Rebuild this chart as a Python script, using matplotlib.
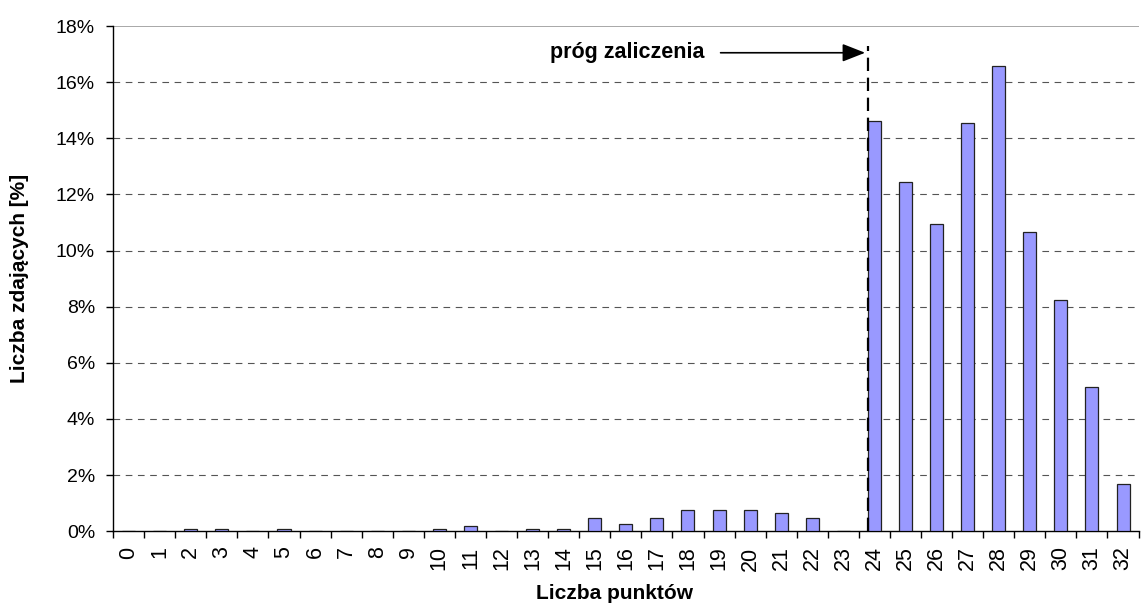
import matplotlib
matplotlib.use("Agg")
import matplotlib.pyplot as plt
from matplotlib.ticker import FuncFormatter, FixedLocator
import numpy as np

# Rozklad wynikow (procent zdajacych dla kazdej liczby punktow)
punkty = list(range(0, 33))
procent = [0, 0, 0.07, 0.07, 0, 0.07, 0, 0, 0, 0,
           0.07, 0.17, 0, 0.07, 0.07, 0.48, 0.27, 0.48, 0.75, 0.75,
           0.75, 0.65, 0.48, 0, 14.6, 12.45, 10.94, 14.54, 16.57, 10.66,
           8.23, 5.13, 1.68]
prog = 24
y_ticks = [0, 2, 4, 6, 8, 10, 12, 14, 16, 18]

plt.rcParams["font.family"] = ["Liberation Sans", "DejaVu Sans"]

fig = plt.figure(figsize=(11.42, 6.07), dpi=100)
ax = fig.add_axes([0.099, 0.125, 0.898, 0.832])

breite = 0.42
ax.bar(punkty, procent, width=breite, color="#9999ff", edgecolor="#222222", linewidth=0.9, zorder=3)

ax.set_xlim(-0.5, 32.5)
ax.set_ylim(0, 18)

# Gitter
for t in y_ticks[1:-1]:
    ax.axhline(t, color="#555555", linestyle=(0, (6, 5)), linewidth=0.8, zorder=1)
ax.axhline(18, color="#999999", linewidth=1.2, zorder=1)

ax.set_yticks(y_ticks)
ax.yaxis.set_major_formatter(FuncFormatter(lambda v, p: f"{int(v)}%"))
ax.set_xticks(punkty)
ax.set_xticklabels([str(p) for p in punkty], rotation=90)
ax.tick_params(axis="x", length=0, pad=11, labelsize=15.5)
ax.xaxis.set_minor_locator(FixedLocator(np.arange(-0.5, 33, 1)))
ax.tick_params(axis="x", which="minor", length=5, width=1)
ax.tick_params(axis="y", length=5, width=1, labelsize=14, pad=8)

for s in ["top", "right"]:
    ax.spines[s].set_visible(False)
ax.spines["left"].set_linewidth(1)
ax.spines["bottom"].set_linewidth(1)

ax.set_xlabel("Liczba punktów", fontsize=15, fontweight="bold", labelpad=6)
ax.xaxis.set_label_coords(0.489, -0.105)
ax.set_ylabel("Liczba zdających [%]", fontsize=15, fontweight="bold", labelpad=19)

# Prog zaliczenia
x_prog = prog - breite / 2
ax.plot([x_prog, x_prog], [0, 17.3], color="black", linestyle=(0, (6, 3)), linewidth=1.6, zorder=4)
ax.annotate("", xy=(x_prog, 17.05), xytext=(18.96, 17.05),
            arrowprops=dict(arrowstyle="-|>,head_length=1.4,head_width=0.55", color="black", lw=1.2))
ax.text(18.54, 17.05, "próg zaliczenia", fontsize=15.5, fontweight="bold", ha="right", va="center")

fig.savefig("out.png", dpi=100)
